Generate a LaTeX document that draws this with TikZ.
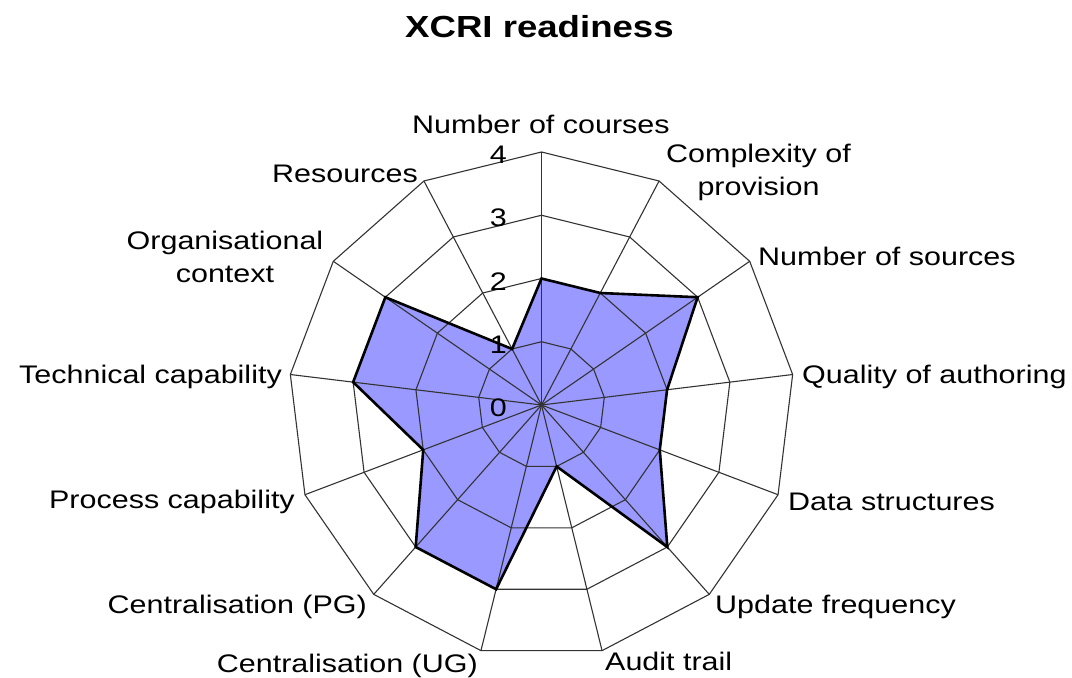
\documentclass[tikz,border=0pt]{standalone}
\usepackage{fontspec}
\setmainfont{Liberation Sans}[FakeStretch=1.2]
\definecolor{radarfill}{HTML}{9999FF}
\definecolor{gridc}{HTML}{333333}
\begin{document}
\begin{tikzpicture}[x=1pt,y=-1pt,
  lab/.style={inner sep=0pt, font=\fontsize{25.4}{33}\selectfont},
  gridline/.style={draw=gridc, line width=1.1pt},
  series/.style={draw=black, line width=2.6pt, line join=miter},
  areafill/.style={fill=radarfill}]
\useasboundingbox (0,0) rectangle (1072,678);
\def\cx{541.5}\def\cy{405}\def\u{63.25}
% data points
\foreach \v [count=\i from 0] in {2,2,3,2,2,3,1,3,3,2,3,3,1}
  \coordinate (p\i) at ({\cx+\v*\u*sin(\i*360/13)},{\cy-\v*\u*cos(\i*360/13)});
\coordinate (c) at (\cx,\cy);
% fill
\fill[areafill] (p0) -- (p1) -- (p2) -- (p3) -- (p4) -- (p5) -- (p6) -- (p7) -- (p8) -- (p9) -- (p10) -- (p11) -- (p12) -- cycle;
% grid rings
\foreach \k in {1,...,4}
  \draw[gridline] (\cx,{\cy-\k*\u}) \foreach \i in {1,...,12}{ -- ({\cx+\k*\u*sin(\i*360/13)},{\cy-\k*\u*cos(\i*360/13)}) } -- cycle;
% axes
\foreach \i in {0,...,12}{
  \coordinate (a\i) at ({\cx+4*\u*sin(\i*360/13)},{\cy-4*\u*cos(\i*360/13)});
  \draw[gridline] (c) -- (a\i);
}
% series outline
\draw[series] (p0) -- (p1) -- (p2) -- (p3) -- (p4) -- (p5) -- (p6) -- (p7) -- (p8) -- (p9) -- (p10) -- (p11) -- (p12) -- cycle;
% tick labels
\foreach \k in {0,...,4}
  \node[lab, anchor=base east] (t\k) at (507,{\cy-\k*\u+11.5}) {\k};
% title
\node[inner sep=0pt, anchor=base west, font=\fontsize{30.5}{36}\selectfont\bfseries] (title) at (405,37) {XCRI readiness};
% axis labels
\node[lab, anchor=base west] (l0) at (412,133) {Number of courses};
\node[lab, align=center, anchor=center] (l1) at (758.5,172) {Complexity of\\provision};
\node[lab, anchor=base west] (l2) at (758,265) {Number of sources};
\node[lab, anchor=base west] (l3) at (802,383) {Quality of authoring};
\node[lab, anchor=base west] (l4) at (788,510) {Data structures};
\node[lab, anchor=base west] (l5) at (715,613) {Update frequency};
\node[lab, anchor=base west] (l6) at (605,670) {Audit trail};
\node[lab, anchor=base east] (l7) at (478,672) {Centralisation (UG)};
\node[lab, anchor=base east] (l8) at (367,613) {Centralisation (PG)};
\node[lab, anchor=base east] (l9) at (295,508) {Process capability};
\node[lab, anchor=base east] (l10) at (282,383) {Technical capability};
\node[lab, align=center, anchor=center] (l11) at (225,257) {Organisational\\context};
\node[lab, anchor=base east] (l12) at (418,182) {Resources};
\end{tikzpicture}
\end{document}
